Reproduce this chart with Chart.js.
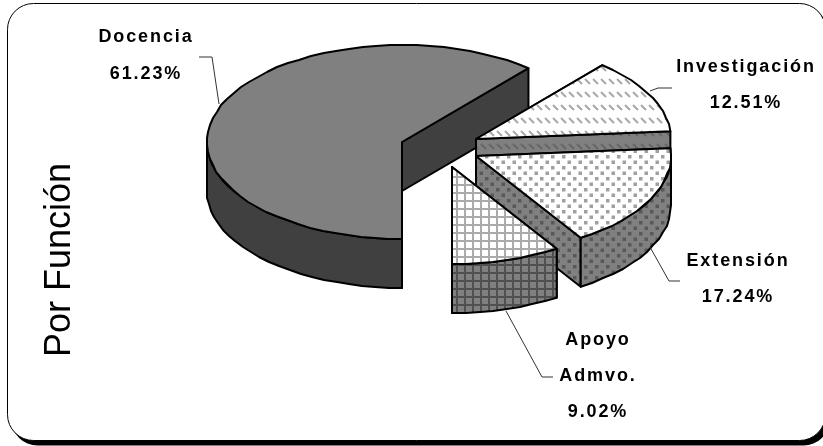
<!DOCTYPE html>
<html>
<head>
<meta charset="utf-8">
<style>
  html, body { margin: 0; padding: 0; background: #fff; }
  #wrap { width: 823px; height: 446px; overflow: hidden; }
</style>
<script src="https://cdn.jsdelivr.net/npm/chart.js@4/dist/chart.umd.min.js"></script>
</head>
<body>
<div id="wrap"><canvas id="pie" width="823" height="446"></canvas></div>
<script>
const functionNames = ["Docencia", "Investigación", "Extensión", "Apoyo Admvo."];
const shares = [61.23, 12.51, 17.24, 9.02];
const axisName = "Por Función";

// exploded slice offsets from the pie centre, px
const explode = [[-9.5, -81], [64.5, -84], [64.5, -67], [40.5, -56]];
const PIE_RADIUS = 195;
const TILT = 0.497;
const DEPTH = 49;
const RIM_STEP = (4 * Math.PI) / 180;
const FONT = '"Liberation Sans", Arial, sans-serif';

const labelBlocks = [
  { x: 146, lines: [["Docencia", 42], ["61.23%", 79]] },
  { x: 746, lines: [["Investigación", 72], ["12.51%", 108]] },
  { x: 738, lines: [["Extensión", 266], ["17.24%", 302]] },
  { x: 598, lines: [["Apoyo", 345], ["Admvo.", 381], ["9.02%", 417]] },
];
const leaders = [
  [[199, 57], [212, 57], [219, 104]],
  [[650, 91], [658, 88], [672, 88]],
  [[650, 247], [669, 281], [680, 281]],
  [[506, 311], [542, 377], [553, 377]],
];

function tile(w, h, bg, paint) {
  const c = document.createElement("canvas");
  c.width = w;
  c.height = h;
  const g = c.getContext("2d");
  g.fillStyle = bg;
  g.fillRect(0, 0, w, h);
  paint(g);
  return g.createPattern(c, "repeat");
}

function dashes(bg, fg) {
  return tile(8, 13, bg, (g) => {
    g.strokeStyle = fg;
    g.lineWidth = 2;
    g.beginPath();
    g.moveTo(1, 1);
    g.lineTo(6, 6);
    g.stroke();
  });
}

function dots(bg, fg) {
  return tile(11, 11, bg, (g) => {
    g.fillStyle = fg;
    g.fillRect(1, 1, 3.5, 3.5);
    g.fillRect(6.5, 6.5, 3.5, 3.5);
  });
}

function grid(bg, fg) {
  return tile(8, 8, bg, (g) => {
    g.fillStyle = fg;
    g.fillRect(0, 0, 2, 8);
    g.fillRect(0, 0, 8, 2);
  });
}

const topFills = ["#808080", dashes("#ffffff", "#a8a8a8"), dots("#ffffff", "#a0a0a0"), grid("#ffffff", "#ababab")];
const sideFills = ["#404040", dashes("#808080", "#666666"), dots("#808080", "#585858"), grid("#808080", "#505050")];

const framePlugin = {
  id: "framePlugin",
  beforeDraw(chart) {
    const { ctx } = chart;
    ctx.save();
    ctx.fillStyle = "#ffffff";
    ctx.fillRect(0, 0, 823, 446);
    ctx.fillStyle = "#000000";
    ctx.beginPath();
    ctx.roundRect(11.5, 8.5, 818, 437, 26);
    ctx.fill();
    ctx.beginPath();
    ctx.roundRect(7.5, 3.5, 818, 437, 26);
    ctx.fillStyle = "#ffffff";
    ctx.fill();
    ctx.strokeStyle = "#000000";
    ctx.lineWidth = 1;
    ctx.stroke();
    ctx.restore();
  },
};

function paintPath(ctx, fill) {
  ctx.closePath();
  ctx.fillStyle = fill;
  ctx.fill();
  ctx.stroke();
}

// rim as a short-segment polyline snapped to whole pixels, so the edge stays slightly faceted
function rimPoints(cx, cy, from, to) {
  const n = Math.max(1, Math.round((to - from) / RIM_STEP));
  const pts = [];
  for (let i = 0; i <= n; i += 1) {
    const a = from + ((to - from) * i) / n;
    const ends = i === 0 || i === n;
    const px = cx + PIE_RADIUS * Math.cos(a);
    const py = cy + PIE_RADIUS * TILT * Math.sin(a);
    pts.push(ends ? [px, py] : [Math.round(px), Math.round(py)]);
  }
  return pts;
}

function radialWall(ctx, cx, cy, angle, fill) {
  const ex = cx + PIE_RADIUS * Math.cos(angle);
  const ey = cy + PIE_RADIUS * TILT * Math.sin(angle);
  ctx.beginPath();
  ctx.moveTo(cx, cy);
  ctx.lineTo(ex, ey);
  ctx.lineTo(ex, ey + DEPTH);
  ctx.lineTo(cx, cy + DEPTH);
  paintPath(ctx, fill);
}

function outerWall(ctx, cx, cy, from, to, fill) {
  const upper = rimPoints(cx, cy, from, to);
  const lower = rimPoints(cx, cy + DEPTH, from, to).reverse();
  ctx.beginPath();
  upper.concat(lower).forEach(([px, py], i) => (i ? ctx.lineTo(px, py) : ctx.moveTo(px, py)));
  paintPath(ctx, fill);
}

// the front half of the rim runs from 0 to PI on the canvas angle scale
function frontRanges(a0, a1) {
  return [[0, Math.PI], [2 * Math.PI, 3 * Math.PI]]
    .map(([lo, hi]) => [Math.max(a0, lo), Math.min(a1, hi)])
    .filter(([lo, hi]) => hi > lo);
}

const extrudePlugin = {
  id: "extrudePlugin",
  beforeDatasetsDraw(chart) {
    const { ctx } = chart;
    const arcs = chart.getDatasetMeta(0).data;
    ctx.save();
    ctx.strokeStyle = "#000000";
    ctx.lineWidth = 2;
    ctx.lineJoin = "round";
    arcs.forEach((arc, i) => {
      const { x, y, startAngle, endAngle } = arc.getProps(["x", "y", "startAngle", "endAngle"]);
      const cx = x + explode[i][0];
      const cy = y + explode[i][1];
      radialWall(ctx, cx, cy, startAngle, sideFills[i]);
      radialWall(ctx, cx, cy, endAngle, sideFills[i]);
      frontRanges(startAngle, endAngle).forEach(([a, b]) => outerWall(ctx, cx, cy, a, b, sideFills[i]));
      ctx.beginPath();
      ctx.moveTo(cx, cy);
      rimPoints(cx, cy, startAngle, endAngle).forEach(([px, py]) => ctx.lineTo(px, py));
      paintPath(ctx, arc.options.backgroundColor);
    });
    ctx.restore();
    return false;
  },
};

const labelPlugin = {
  id: "labelPlugin",
  afterDraw(chart) {
    const { ctx } = chart;
    ctx.save();
    ctx.strokeStyle = "#333333";
    ctx.lineWidth = 1;
    leaders.forEach((pts) => {
      ctx.beginPath();
      pts.forEach(([px, py], i) => (i ? ctx.lineTo(px, py) : ctx.moveTo(px, py)));
      ctx.stroke();
    });
    ctx.fillStyle = "#000000";
    ctx.textAlign = "center";
    ctx.font = `bold 18px ${FONT}`;
    ctx.letterSpacing = "1.9px";
    labelBlocks.forEach((b) => b.lines.forEach(([text, py]) => ctx.fillText(text, b.x, py)));
    ctx.letterSpacing = "0px";
    ctx.font = `36px ${FONT}`;
    ctx.translate(70, 260);
    ctx.rotate(-Math.PI / 2);
    ctx.fillText(axisName, 0, 0);
    ctx.restore();
  },
};

new Chart(document.getElementById("pie"), {
  type: "pie",
  data: {
    labels: functionNames,
    datasets: [{ data: shares, backgroundColor: topFills, borderColor: "#000000", borderWidth: 2 }],
  },
  options: {
    responsive: false,
    animation: false,
    events: [],
    rotation: 180,
    radius: PIE_RADIUS,
    plugins: { legend: { display: false }, tooltip: { enabled: false } },
  },
  plugins: [framePlugin, extrudePlugin, labelPlugin],
});
</script>
</body>
</html>
